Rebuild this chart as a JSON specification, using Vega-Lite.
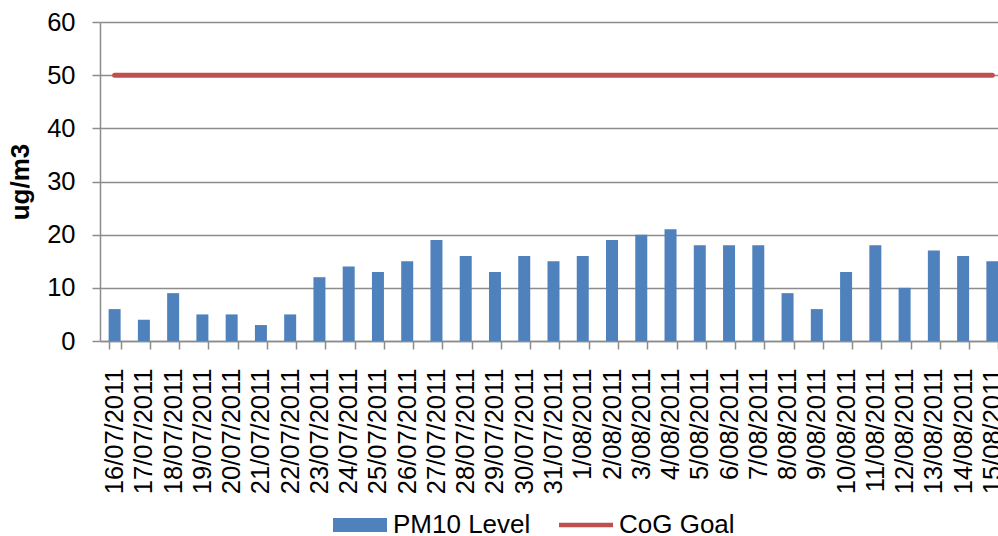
{
  "$schema": "https://vega.github.io/schema/vega-lite/v6.json",
  "autosize": "none",
  "padding": {"left": 100, "top": 22, "right": 0, "bottom": 195},
  "width": 898,
  "height": 319,
  "background": "white",
  "config": {
    "font": "Liberation Sans",
    "view": {"stroke": null},
    "axis": {
      "labelColor": "black",
      "labelFont": "Liberation Sans",
      "domainColor": "#8c8c8c",
      "tickColor": "#8c8c8c",
      "gridColor": "#8c8c8c",
      "domainWidth": 1.5,
      "tickWidth": 1.5,
      "gridWidth": 1.5
    }
  },
  "data": {
    "values": [
      {"date": "16/07/2011", "pm10": 6, "goal": 50},
      {"date": "17/07/2011", "pm10": 4, "goal": 50},
      {"date": "18/07/2011", "pm10": 9, "goal": 50},
      {"date": "19/07/2011", "pm10": 5, "goal": 50},
      {"date": "20/07/2011", "pm10": 5, "goal": 50},
      {"date": "21/07/2011", "pm10": 3, "goal": 50},
      {"date": "22/07/2011", "pm10": 5, "goal": 50},
      {"date": "23/07/2011", "pm10": 12, "goal": 50},
      {"date": "24/07/2011", "pm10": 14, "goal": 50},
      {"date": "25/07/2011", "pm10": 13, "goal": 50},
      {"date": "26/07/2011", "pm10": 15, "goal": 50},
      {"date": "27/07/2011", "pm10": 19, "goal": 50},
      {"date": "28/07/2011", "pm10": 16, "goal": 50},
      {"date": "29/07/2011", "pm10": 13, "goal": 50},
      {"date": "30/07/2011", "pm10": 16, "goal": 50},
      {"date": "31/07/2011", "pm10": 15, "goal": 50},
      {"date": "1/08/2011", "pm10": 16, "goal": 50},
      {"date": "2/08/2011", "pm10": 19, "goal": 50},
      {"date": "3/08/2011", "pm10": 20, "goal": 50},
      {"date": "4/08/2011", "pm10": 21, "goal": 50},
      {"date": "5/08/2011", "pm10": 18, "goal": 50},
      {"date": "6/08/2011", "pm10": 18, "goal": 50},
      {"date": "7/08/2011", "pm10": 18, "goal": 50},
      {"date": "8/08/2011", "pm10": 9, "goal": 50},
      {"date": "9/08/2011", "pm10": 6, "goal": 50},
      {"date": "10/08/2011", "pm10": 13, "goal": 50},
      {"date": "11/08/2011", "pm10": 18, "goal": 50},
      {"date": "12/08/2011", "pm10": 10, "goal": 50},
      {"date": "13/08/2011", "pm10": 17, "goal": 50},
      {"date": "14/08/2011", "pm10": 16, "goal": 50},
      {"date": "15/08/2011", "pm10": 15, "goal": 50}
    ]
  },
  "encoding": {
    "x": {
      "field": "date",
      "type": "ordinal",
      "sort": null,
      "scale": {"range": [0, 907], "paddingInner": 0.59, "paddingOuter": 0.295},
      "axis": {
        "title": null,
        "labelAngle": -90,
        "labelAlign": "right",
        "labelBaseline": "middle",
        "labelFontSize": 25.5,
        "labelPadding": 19,
        "labelOverlap": false,
        "labelBound": false,
        "labelFlush": false,
        "tickSize": 8,
        "tickBand": "extent",
        "grid": false
      }
    }
  },
  "layer": [
    {
      "mark": {"type": "bar", "color": "#4F81BD"},
      "encoding": {
        "y": {
          "field": "pm10",
          "type": "quantitative",
          "scale": {"domain": [0, 60]},
          "axis": {
            "title": "ug/m3",
            "titleFontSize": 26,
            "titleFontWeight": "bold",
            "titleColor": "black",
            "titleX": -80,
            "titleY": 159.5,
            "titleAngle": -90,
            "titleAlign": "center",
            "titleBaseline": "middle",
            "values": [0, 10, 20, 30, 40, 50, 60],
            "labelFontSize": 25.5,
            "labelPadding": 17,
            "tickSize": 8,
            "grid": true
          }
        },
        "color": {
          "datum": "PM10 Level",
          "scale": {"domain": ["PM10 Level", "CoG Goal"], "range": ["#4F81BD", "#C0504D"]},
          "legend": {
            "title": null,
            "orient": "none",
            "direction": "horizontal",
            "legendX": 233,
            "legendY": 476,
            "padding": 0,
            "symbolSize": 2916,
            "labelFontSize": 26,
            "labelColor": "black",
            "labelOffset": 6,
            "columnPadding": 28,
            "labelLimit": 400,
            "encode": {
              "symbols": {
                "update": {
                  "shape": {"signal": "datum.value === 'PM10 Level' ? 'M-1,-0.26H1V0.26H-1Z' : 'M-1,-0.085H1V0.085H-1Z'"},
                  "fill": {"signal": "datum.value === 'PM10 Level' ? '#4F81BD' : '#C0504D'"},
                  "stroke": {"value": "transparent"},
                  "strokeWidth": {"value": 0},
                  "opacity": {"value": 1},
                  "fillOpacity": {"value": 1}
                }
              }
            }
          }
        }
      }
    },
    {
      "mark": {"type": "line", "strokeWidth": 5, "strokeCap": "round", "color": "#C0504D"},
      "encoding": {
        "y": {"field": "goal", "type": "quantitative"},
        "color": {"datum": "CoG Goal"}
      }
    }
  ]
}
